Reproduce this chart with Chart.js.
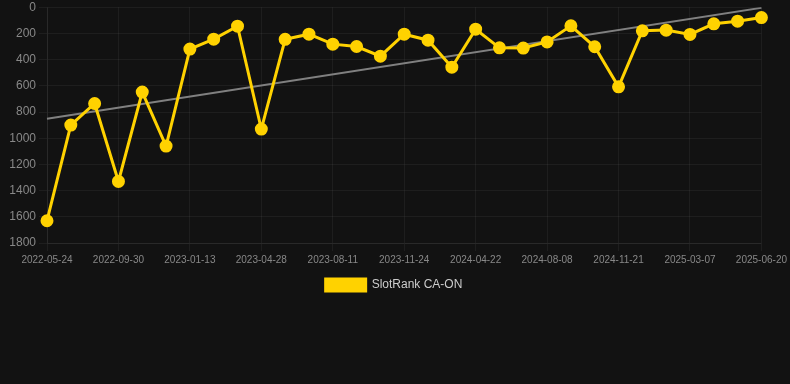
<!DOCTYPE html>
<html>
<head>
<meta charset="utf-8">
<script src="https://cdn.jsdelivr.net/npm/chart.js@4/dist/chart.umd.min.js"></script>
<style>
  html, body { margin: 0; padding: 0; background: #121212; overflow: hidden; }
  #wrap { width: 790px; height: 304px; position: relative; top: -3px; }
</style>
</head>
<body>
<div id="wrap"><canvas id="c"></canvas></div>
<script>
const categories = [
  "2022-05-24","2022-06-30","2022-08-18","2022-09-30","2022-11-03","2022-12-08",
  "2023-01-13","2023-02-16","2023-03-23","2023-04-28","2023-06-01","2023-07-06",
  "2023-08-11","2023-09-14","2023-10-19","2023-11-24","2024-01-11","2024-03-07",
  "2024-04-22","2024-05-30","2024-07-03","2024-08-08","2024-09-12","2024-10-17",
  "2024-11-21","2024-12-19","2025-01-30","2025-03-07","2025-04-10","2025-05-15",
  "2025-06-20"
];
const rankValues = [
  1630, 900, 735, 1330, 648, 1060,
  320, 244, 145, 930, 245, 206,
  282, 300, 374, 206, 252, 458,
  168, 310, 312, 265, 142, 302,
  608, 180, 175, 208, 127, 107,
  79
];
const trendValues = categories.map(() => null);
trendValues[0] = 852;
trendValues[categories.length - 1] = 5;
const yTicks = [0, 200, 400, 600, 800, 1000, 1200, 1400, 1600, 1800];

new Chart(document.getElementById('c'), {
  type: 'line',
  data: {
    labels: categories,
    datasets: [
      {
        label: 'SlotRank CA-ON',
        data: rankValues,
        borderColor: '#FFD200',
        backgroundColor: '#FFD200',
        borderWidth: 3,
        pointRadius: 5,
        pointHoverRadius: 5,
        pointBackgroundColor: '#FFD200',
        pointBorderColor: '#FFD200',
        tension: 0
      },
      {
        label: 'trend',
        data: trendValues,
        borderColor: '#808080',
        borderWidth: 2,
        pointRadius: 0,
        spanGaps: true,
        fill: false
      }
    ]
  },
  options: {
    responsive: true,
    maintainAspectRatio: false,
    animation: false,
    layout: { padding: { top: 3, right: 2, left: 0 } },
    plugins: {
      legend: {
        position: 'bottom',
        labels: {
          color: '#cccccc',
          font: { family: 'Liberation Sans, Arial, sans-serif', size: 12 },
          boxWidth: 40,
          boxHeight: 12,
          filter: (item) => item.text !== 'trend'
        }
      },
      tooltip: { enabled: false }
    },
    scales: {
      x: {
        grid: { color: 'rgba(255,255,255,0.05)' },
        border: { color: 'rgba(255,255,255,0.05)' },
        ticks: {
          color: '#888888',
          font: { family: 'Liberation Sans, Arial, sans-serif', size: 10 },
          maxRotation: 0,
          autoSkip: true,
          maxTicksLimit: 11
        }
      },
      y: {
        reverse: true,
        min: 0,
        max: 1800,
        afterBuildTicks: (axis) => { axis.ticks = yTicks.map(v => ({ value: v })); },
        afterFit: (axis) => { axis.width = 47; },
        grid: { color: 'rgba(255,255,255,0.05)' },
        border: { color: 'rgba(255,255,255,0.05)' },
        ticks: {
          color: '#888888',
          font: { family: 'Liberation Sans, Arial, sans-serif', size: 12 },
          callback: (v) => String(v)
        }
      }
    }
  }
});
</script>
</body>
</html>
